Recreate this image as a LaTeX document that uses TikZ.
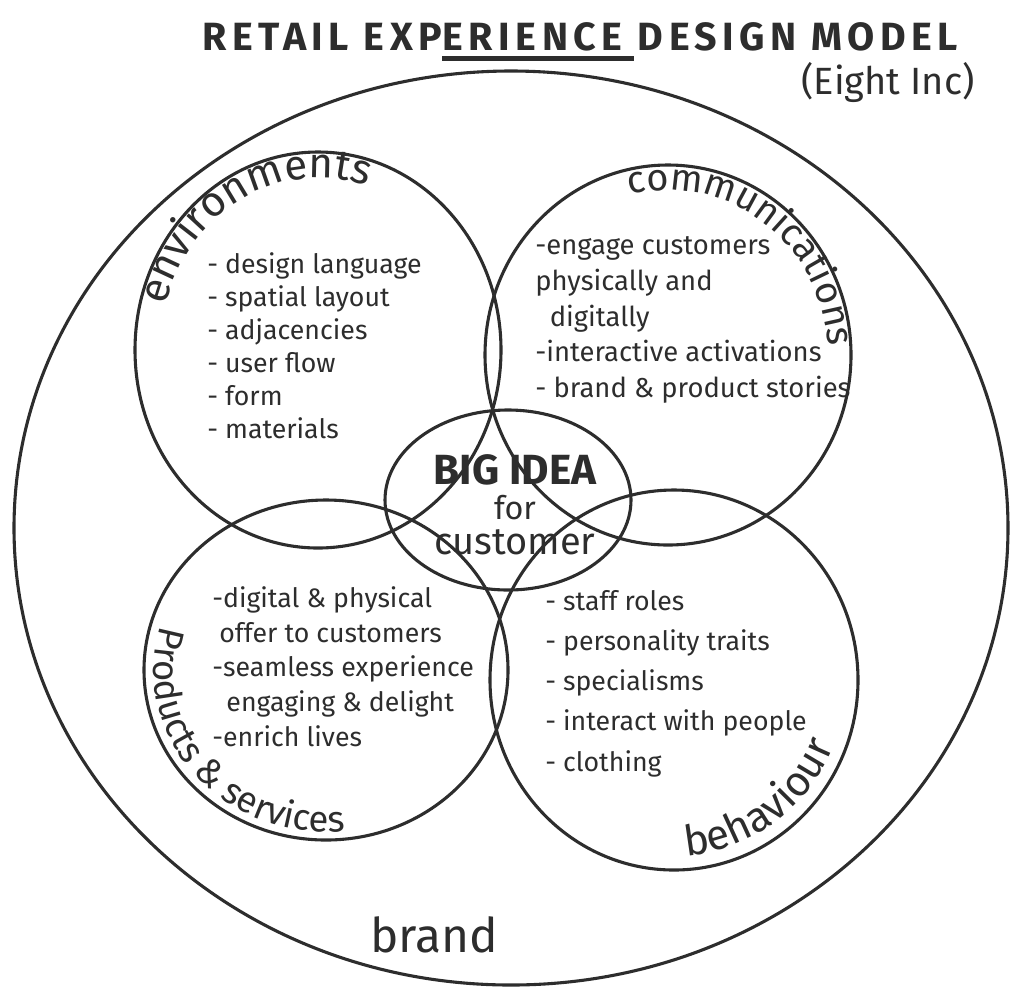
\documentclass[tikz,border=0pt]{standalone}
\usepackage{fontspec}
\setmainfont{Fira Sans}
\usepackage{tikz}
\usetikzlibrary{positioning,decorations.text}
\definecolor{pen}{RGB}{45,45,45}
\newcommand\arcfont{\fontsize{30}{30}\selectfont}
\newcommand\midarcfont{\fontsize{27}{27}\selectfont}
\newcommand\smallarcfont{\fontsize{26}{26}\selectfont}
\tikzset{
  vn_ring/.style={draw=pen,line width=2.2pt},
  vn_body/.style={text=pen,align=left,anchor=north west,inner sep=0pt,
    font=\fontsize{19}{23.5}\selectfont},
  vn_head/.style={text=pen,inner sep=0pt,
    font=\fontsize{28}{30}\selectfont\bfseries\addfontfeature{LetterSpace=14}},
  vn_arc/.style={decorate,decoration={text along path,text color=pen,
    text={|\arcfont|#1}}},
  vn_arcmd/.style={decorate,decoration={text along path,text color=pen,
    text={|\midarcfont|#1}}},
  vn_arcsm/.style={decorate,decoration={text along path,text color=pen,
    text={|\smallarcfont|#1}}},
}

\begin{document}
\begin{tikzpicture}[x=0.025cm,y=0.025cm]
  \useasboundingbox (0,0) rectangle (1025,-996);
  % title
  \node (ttlA) [vn_head, anchor=base west] at (202,-50) {RETAIL EXP};
  \node (ttlB) [vn_head, anchor=base west] at (ttlA.base east) {ERIENCE};
  \node (ttlC) [vn_head, anchor=base west] at (ttlB.base east) {\ DESIGN MODEL};
  \draw[pen, line width=3pt] ([yshift=-6pt]ttlB.base west) -- ([xshift=8pt,yshift=-6pt]ttlB.base east);
  \node (firm) [text=pen, font=\fontsize{27}{28}\selectfont] at (888,-82) {(Eight Inc)};

  % rings
  \coordinate (brandC) at (511,-528);
  \coordinate (envC)   at (318,-350);
  \coordinate (comC)   at (668,-355);
  \coordinate (prdC)   at (326,-670);
  \coordinate (behC)   at (674,-680);
  \coordinate (ideaC)  at (508,-500);
  \draw[vn_ring] (brandC) ellipse [x radius=497, y radius=457];
  \draw[vn_ring] (envC) ellipse [x radius=183, y radius=198];
  \draw[vn_ring] (comC) ellipse [x radius=183, y radius=190];
  \draw[vn_ring] (prdC) ellipse [x radius=182, y radius=170];
  \draw[vn_ring] (behC) ellipse [x radius=184, y radius=190];
  \draw[vn_ring] (ideaC) ellipse [x radius=123, y radius=90];

  % ring labels
  \path[vn_arc={environments}] ([shift={(165:158 and 172)}]envC)
    arc [start angle=165, end angle=60, x radius=158, y radius=172];
  \path[vn_arcmd={communications}] ([shift={(104:160 and 165)}]comC)
    arc [start angle=104, end angle=-20, x radius=160, y radius=165];
  \path[vn_arcsm={Products {\&} services}] ([shift={(164:172 and 162)}]prdC)
    arc [start angle=164, end angle=300, x radius=172, y radius=162];
  \path[vn_arc={behaviour}] ([shift={(274:172 and 176)}]behC)
    arc [start angle=274, end angle=350, x radius=172, y radius=176];

  % contents
  \node (envTxt) [vn_body] at (207,-252)
    {- design language\\- spatial layout\\- adjacencies\\- user flow\\- form\\- materials};
  \node (comTxt) [vn_body, font=\fontsize{19.5}{25.5}\selectfont] at (535,-236)
    {-engage customers\\physically and\\\ \ digitally\\-interactive activations\\- brand \& product stories};
  \node (prdTxt) [vn_body, font=\fontsize{19}{24.8}\selectfont] at (212,-586)
    {-digital \& physical\\\ offer to customers\\-seamless experience\\\ \ engaging \& delight\\-enrich lives};
  \node (behTxt) [vn_body, font=\fontsize{19}{28.6}\selectfont] at (545,-590)
    {- staff roles\\- personality traits\\- specialisms\\- interact with people\\- clothing};

  \node (idea) [text=pen, align=center, font=\fontsize{27}{25}\selectfont] at (515,-505)
    {{\fontsize{30}{25}\selectfont\bfseries BIG IDEA}\\{\fontsize{23}{25}\selectfont for}\\customer};
  \node (brandLbl) [text=pen, font=\fontsize{34}{36}\selectfont] at (434,-935) {brand};
\end{tikzpicture}
\end{document}
